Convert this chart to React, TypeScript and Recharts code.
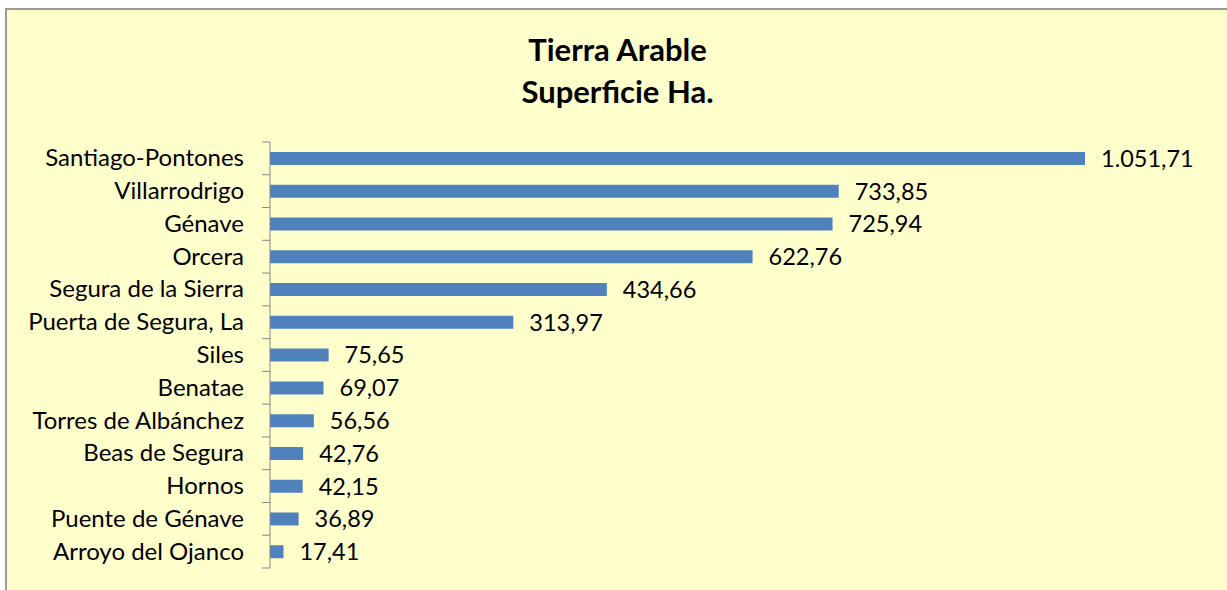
import { BarChart, Bar, XAxis, YAxis, LabelList } from "recharts";

const municipios = [
  "Santiago-Pontones",
  "Villarrodrigo",
  "Génave",
  "Orcera",
  "Segura de la Sierra",
  "Puerta de Segura, La",
  "Siles",
  "Benatae",
  "Torres de Albánchez",
  "Beas de Segura",
  "Hornos",
  "Puente de Génave",
  "Arroyo del Ojanco",
];
const superficie = [1051.71, 733.85, 725.94, 622.76, 434.66, 313.97, 75.65, 69.07, 56.56, 42.76, 42.15, 36.89, 17.41];

const data = municipios.map((name, i) => ({ name, value: superficie[i] }));

const W = 1227;
const H = 590;
const TOP = 142;
const BOTTOM = 22;
const band = (H - TOP - BOTTOM) / municipios.length;
const font = "Lato, 'Open Sans', sans-serif";

// 1051.71 -> "1.051,71"
function fmt(v: number) {
  const [ent, dec] = v.toFixed(2).split(".");
  return ent.replace(/\B(?=(\d{3})+(?!\d))/g, ".") + "," + dec;
}

function CatTick(props: any) {
  const { x, y, payload, index } = props;
  const ax = x + 26;
  return (
    <g>
      <line x1={ax - 8} x2={ax} y1={y - band / 2} y2={y - band / 2} stroke="#888" />
      {index === municipios.length - 1 && (
        <line x1={ax - 8} x2={ax} y1={y + band / 2} y2={y + band / 2} stroke="#888" />
      )}
      <text x={x} y={y} dy={8} textAnchor="end" fill="#000" fontSize={24} fontFamily={font}>
        {payload.value}
      </text>
    </g>
  );
}

export default function App() {
  return (
    <div style={{ position: "absolute", left: 0, top: 0, width: W, height: H, overflow: "hidden", background: "#fff" }}>
      <div
        style={{
          position: "absolute",
          left: 5,
          top: 8,
          width: W + 20,
          height: H + 20,
          border: "2px solid #999",
          background: "#FFFFCC",
        }}
      />
      <div
        style={{
          position: "absolute",
          left: 4,
          top: 28,
          width: W,
          textAlign: "center",
          fontFamily: font,
          fontWeight: 700,
          fontSize: 31,
          lineHeight: "42px",
          color: "#000",
        }}
      >
        Tierra Arable
        <br />
        Superficie Ha.
      </div>
      <div style={{ position: "absolute", left: 0, top: 0 }}>
        <BarChart
          width={W}
          height={H}
          data={data}
          layout="vertical"
          margin={{ top: TOP, right: 142, bottom: BOTTOM, left: 0 }}
        >
          <XAxis type="number" hide domain={[0, "dataMax"]} />
          <YAxis
            type="category"
            dataKey="name"
            width={270}
            axisLine={{ stroke: "#888" }}
            tickLine={false}
            tick={<CatTick />}
            tickMargin={0}
            tickSize={26}
            interval={0}
          />
          <Bar dataKey="value" fill="#4F81BD" barSize={13} isAnimationActive={false}>
            <LabelList
              dataKey="value"
              position="right"
              offset={16}
              formatter={(v: any) => fmt(Number(v))}
              fill="#000"
              fontSize={23.5}
              fontFamily={font}
            />
          </Bar>
        </BarChart>
      </div>
    </div>
  );
}
